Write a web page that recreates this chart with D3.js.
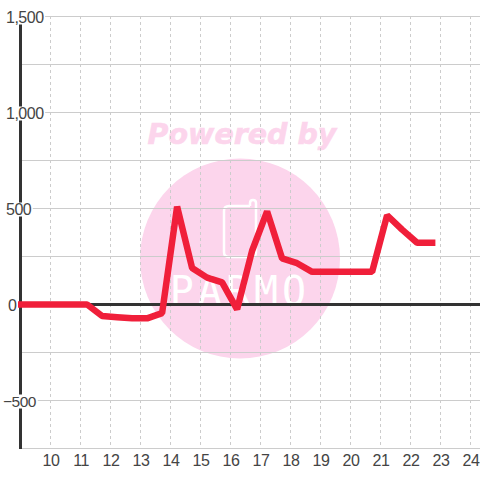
<!DOCTYPE html>
<html>
<head>
<meta charset="utf-8">
<script src="https://cdn.jsdelivr.net/npm/d3@7/dist/d3.min.js"></script>
<style>
  html, body { margin: 0; padding: 0; background: #fff; }
  svg { display: block; }
</style>
</head>
<body>
<div id="chart"></div>
<script>
const hours = [8.88, 11.22, 11.72, 12.22, 12.72, 13.22, 13.72, 14.22, 14.72, 15.22, 15.72, 16.22, 16.72, 17.22, 17.72, 18.22, 18.72, 19.22, 19.72, 20.22, 20.72, 21.22, 21.72, 22.22, 22.83];
const values = [0, 0, -60, -66, -72, -72, -45, 510, 190, 140, 115, -25, 280, 485, 240, 215, 170, 170, 170, 170, 170, 465, 390, 322, 322];
const xTicks = [10, 11, 12, 13, 14, 15, 16, 17, 18, 19, 20, 21, 22, 23, 24];
const yTicks = [-500, 0, 500, 1000, 1500];
const yGrid = [-750, -500, -250, 0, 250, 500, 750, 1000, 1250, 1500];

const width = 480, height = 480;
const svg = d3.select("#chart").append("svg")
  .attr("width", width)
  .attr("height", height);

const x = d3.scaleLinear().domain([9, 24]).range([20.5, 470.5]);
const y = d3.scaleLinear().domain([-750, 1500]).range([448.5, 16.5]);

// Watermark
const mark = svg.append("g");
mark.append("circle")
  .attr("cx", 240).attr("cy", 258.5).attr("r", 100)
  .attr("fill", "#fcd5ec");
mark.append("text")
  .attr("x", 242).attr("y", 144)
  .attr("text-anchor", "middle")
  .style("font-family", "DejaVu Sans")
  .style("font-weight", "bold")
  .style("font-style", "italic")
  .style("font-size", "28.5px")
  .attr("fill", "#fcd5ec")
  .attr("stroke", "#fcd5ec")
  .attr("stroke-width", 0.6)
  .text("Powered by");
mark.append("path")
  .attr("d", "M250 206H229Q224 206 224 211V252Q224 257 229 257H251Q256 257 256 252V203Q256 200 253 200Q250 200 250 203V206")
  .attr("fill", "none").attr("stroke", "#fff").attr("stroke-width", 2.5);
mark.append("text")
  .attr("x", 240).attr("y", 305)
  .attr("text-anchor", "middle")
  .style("font-family", "DejaVu Sans Mono")
  .style("font-size", "40px")
  .style("letter-spacing", "4px")
  .attr("fill", "#fff")
  .text("PARMO");

// Grid
svg.append("g").selectAll("line")
  .data(yGrid)
  .enter().append("line")
  .attr("x1", 20).attr("x2", width)
  .attr("y1", d => y(d)).attr("y2", d => y(d))
  .attr("stroke", "#ccc");

svg.append("g").selectAll("line")
  .data(xTicks)
  .enter().append("line")
  .attr("x1", d => x(d)).attr("x2", d => x(d))
  .attr("y1", 16).attr("y2", 448)
  .attr("stroke", "#ccc")
  .attr("stroke-dasharray", "3,3");

// Axis lines
svg.append("line")
  .attr("x1", 20.5).attr("x2", 20.5)
  .attr("y1", 16).attr("y2", 449)
  .attr("stroke", "#333").attr("stroke-width", 3);
svg.append("line")
  .attr("x1", 20).attr("x2", width)
  .attr("y1", y(0)).attr("y2", y(0))
  .attr("stroke", "#333").attr("stroke-width", 3);

// Series
const line = d3.line().x((d, i) => x(hours[i])).y(d => y(d));
svg.append("path")
  .datum(values)
  .attr("d", line)
  .attr("fill", "none")
  .attr("stroke", "#f01f3a")
  .attr("stroke-width", 6.5)
  .attr("stroke-linejoin", "bevel");

// Tick labels, each on a white box that cuts the axis and grid
const yLabels = svg.append("g").selectAll("g")
  .data(yTicks)
  .enter().append("g");

yLabels.append("text")
  .attr("x", d => d === 0 ? 8 : d === -500 ? 3 : 6)
  .attr("y", d => y(d) + 6)
  .style("font-family", "Liberation Sans")
  .style("font-size", d => d === -500 ? "15.5px" : "16px")
  .style("letter-spacing", "-0.5px")
  .attr("fill", "#444")
  .text(d => d3.format(",")(d));

yLabels.insert("rect", "text")
  .each(function () {
    const box = this.parentNode.querySelector("text").getBBox();
    d3.select(this)
      .attr("x", Math.max(0, box.x - 1))
      .attr("y", box.y + 2)
      .attr("width", box.width + 2)
      .attr("height", box.height - 3);
  })
  .attr("fill", "#fff");

svg.append("g").selectAll("text")
  .data(xTicks)
  .enter().append("text")
  .attr("x", d => x(d) + 0.5)
  .attr("y", 466)
  .attr("text-anchor", "middle")
  .style("font-family", "Liberation Sans")
  .style("font-size", "16px")
  .style("letter-spacing", "-0.5px")
  .attr("fill", "#444")
  .text(d => d);
</script>
</body>
</html>
